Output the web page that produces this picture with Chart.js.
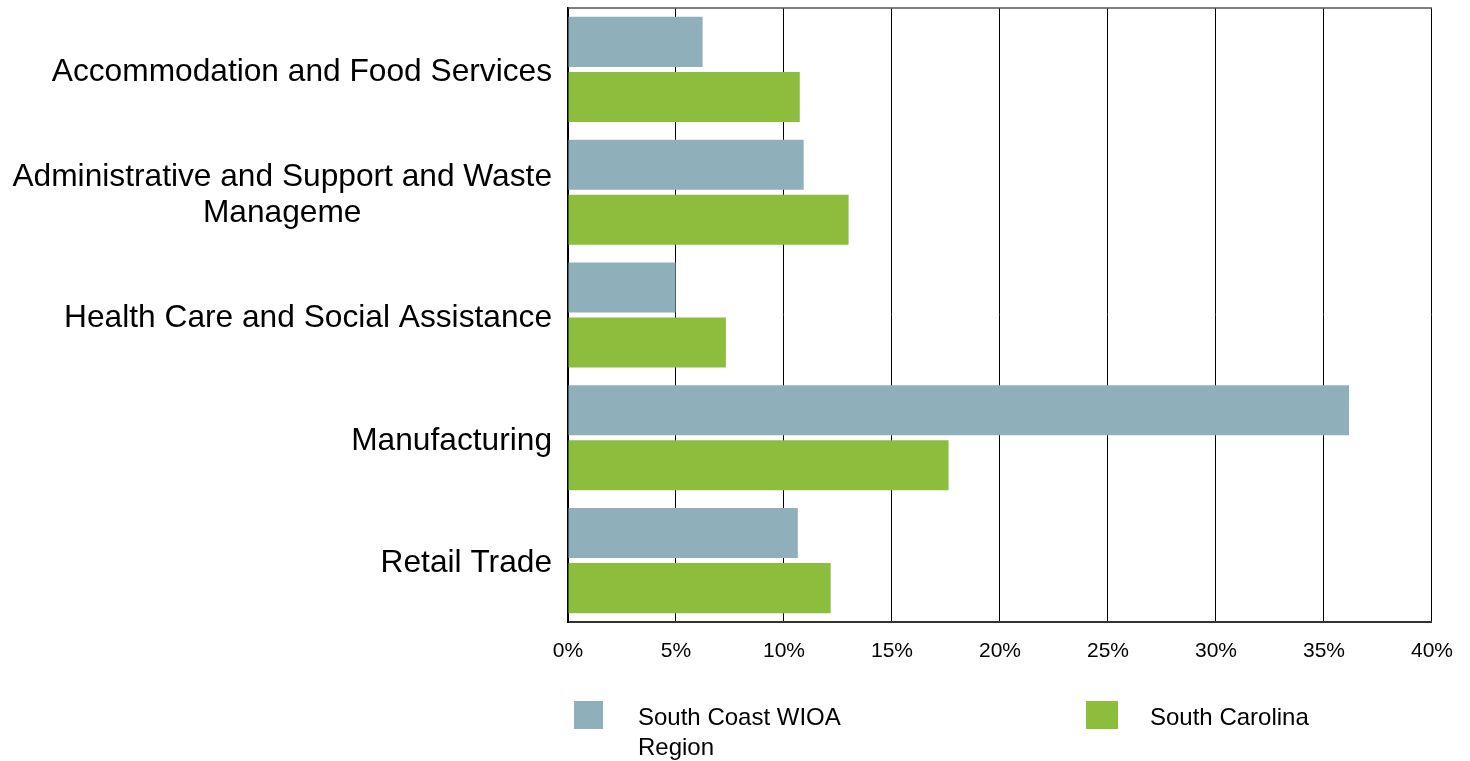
<!DOCTYPE html>
<html>
<head>
<meta charset="utf-8">
<script src="https://cdn.jsdelivr.net/npm/chart.js@4"></script>
<style>
  body { margin: 0; background: #fff; }
  #wrap { position: relative; width: 1470px; height: 761px; font-family: "Liberation Sans", Arial, sans-serif; }
  .box { position: absolute; }
  .txt { position: absolute; font-size: 24px; line-height: 30px; color: #000; white-space: nowrap; }
</style>
</head>
<body>
<div id="wrap">
  <canvas id="chart1" width="1470" height="761"></canvas>
  <div class="box" style="left:574px;top:701px;width:29px;height:28px;background:#8FAFBA"></div>
  <div class="txt" style="left:638px;top:702px">South Coast WIOA<br>Region</div>
  <div class="box" style="left:1086px;top:701px;width:32px;height:28px;background:#8DBD3C"></div>
  <div class="txt" style="left:1150px;top:702px">South Carolina</div>
</div>
<script>
// datos
var categorias = [
    'Accommodation and Food Services',
    ['Administrative and Support and Waste', 'Manageme'],
    'Health Care and Social Assistance',
    'Manufacturing',
    'Retail Trade'
];
var surCosta = [6.23, 10.91, 4.98, 36.16, 10.64];
var carolinaSur = [10.73, 12.99, 7.31, 17.62, 12.16];
var ticksX = [0, 5, 10, 15, 20, 25, 30, 35, 40];

var fuente = '"Liberation Sans", Arial, sans-serif';

// etiquetas del eje Y dibujadas a mano (multilinea centrada)
var etiquetasY = {
    id: 'etiquetasY',
    afterDraw: function (chart) {
        var ctx = chart.ctx;
        var y = chart.scales.y;
        var right = chart.chartArea.left - 16;
        ctx.save();
        ctx.font = '31.7px ' + fuente;
        ctx.fillStyle = '#000';
        ctx.textBaseline = 'middle';
        ctx.textAlign = 'center';
        categorias.forEach(function (lab, i) {
            var lines = Array.isArray(lab) ? lab : [lab];
            var maxW = 0;
            lines.forEach(function (l) { maxW = Math.max(maxW, ctx.measureText(l).width); });
            var cy = y.getPixelForValue(i) + 3;
            lines.forEach(function (l, j) {
                ctx.fillText(l, right - maxW / 2, cy + (j - (lines.length - 1) / 2) * 36);
            });
        });
        // borde superior
        var a = chart.chartArea;
        ctx.strokeStyle = '#555';
        ctx.lineWidth = 1.5;
        ctx.beginPath();
        ctx.moveTo(a.left, a.top);
        ctx.lineTo(a.right, a.top);
        ctx.stroke();
        ctx.restore();
    }
};

document.addEventListener('DOMContentLoaded', function () {
    var ctx1 = document.getElementById('chart1').getContext('2d');
    var chart1 = new Chart(ctx1, {
        type: 'bar',
        data: {
            labels: categorias,
            datasets: [{
                label: 'South Coast WIOA Region',
                data: surCosta,
                backgroundColor: '#8FAFBA',
                categoryPercentage: 0.8965,
                barPercentage: 0.909
            }, {
                label: 'South Carolina',
                data: carolinaSur,
                backgroundColor: '#8DBD3C',
                categoryPercentage: 0.8965,
                barPercentage: 0.909
            }]
        },
        options: {
            indexAxis: 'y',
            responsive: false,
            animation: false,
            devicePixelRatio: 1,
            layout: { padding: { top: 8, right: 37, bottom: 0, left: 0 } },
            plugins: {
                legend: { display: false },
                tooltip: { enabled: false }
            },
            scales: {
                x: {
                    min: 0,
                    max: 40,
                    afterBuildTicks: function (scale) {
                        scale.ticks = ticksX.map(function (v) { return { value: v }; });
                    },
                    afterFit: function (scale) { scale.height = 139; },
                    grid: { color: '#000', lineWidth: 1, drawTicks: false },
                    border: { color: '#333', width: 2 },
                    ticks: {
                        padding: 17,
                        color: '#000',
                        font: { family: fuente, size: 21 },
                        callback: function (v) { return v + '%'; }
                    }
                },
                y: {
                    afterFit: function (scale) { scale.width = 568; },
                    grid: { display: false },
                    border: { color: '#000', width: 2 },
                    ticks: { display: false }
                }
            }
        },
        plugins: [etiquetasY]
    });
});
</script>
</body>
</html>
